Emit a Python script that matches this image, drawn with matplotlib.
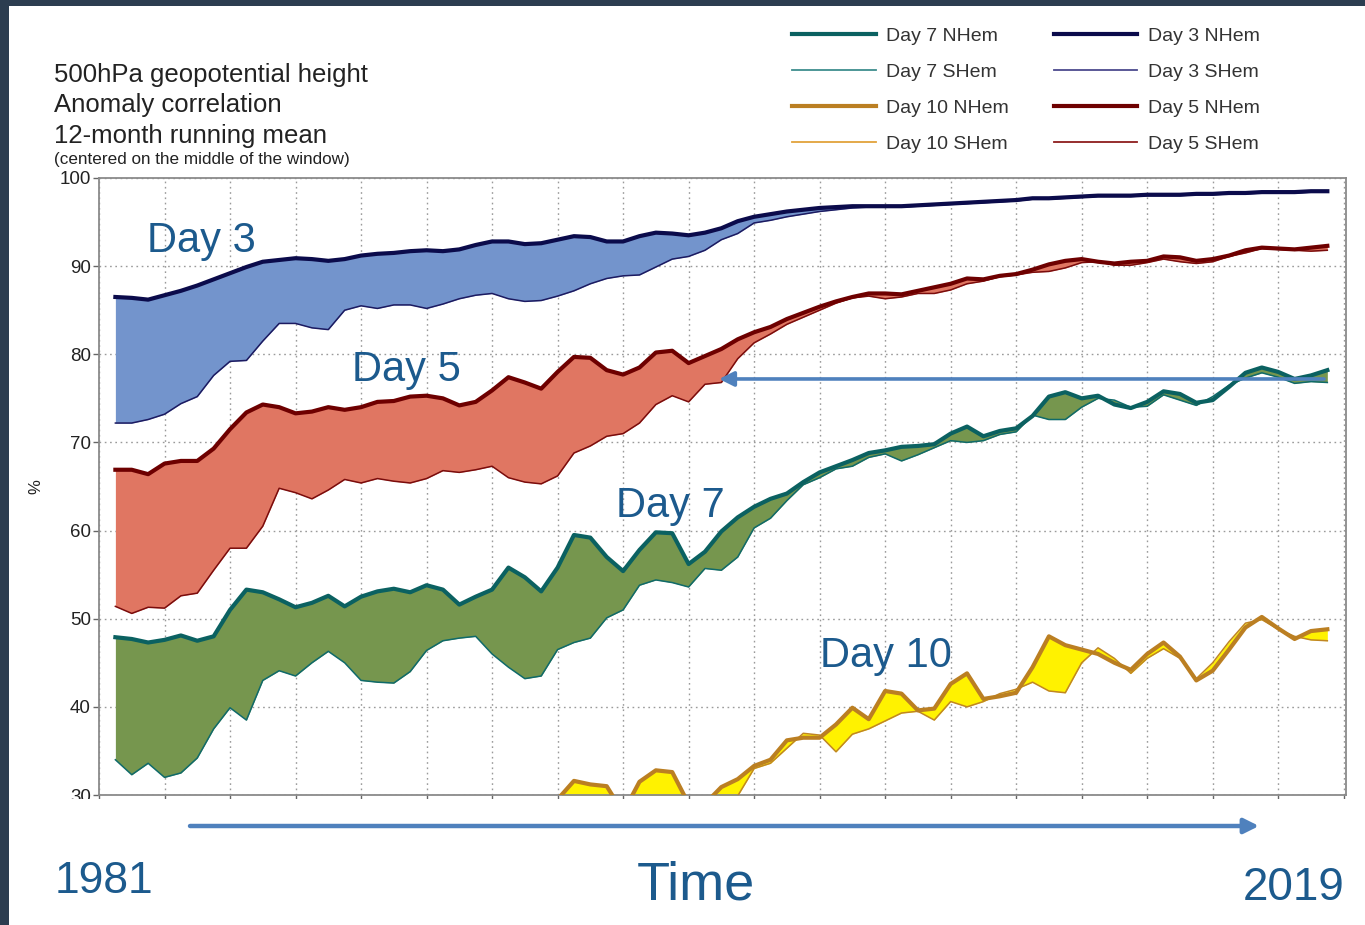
import numpy as np
import matplotlib
matplotlib.use("Agg")
import matplotlib.pyplot as plt
from matplotlib.lines import Line2D
from matplotlib.patches import Rectangle, FancyArrowPatch

plt.rcParams['font.family'] = ['Liberation Sans', 'DejaVu Sans']

W, H, DPI = 1365, 925, 100

# 12-month running means, sampled every half year (centre of window)
years = np.arange(1981.5, 2018.51, 0.5)
years10 = np.arange(1994.5, 2018.51, 0.5)

day3_nhem = [86.5, 86.4, 86.2, 86.7, 87.2, 87.8, 88.5, 89.2, 89.9, 90.5,
             90.7, 90.9, 90.8, 90.6, 90.8, 91.2, 91.4, 91.5, 91.7, 91.8,
             91.7, 91.9, 92.4, 92.8, 92.8, 92.5, 92.6, 93.0, 93.4, 93.3,
             92.8, 92.8, 93.4, 93.8, 93.7, 93.5, 93.8, 94.3, 95.1, 95.6,
             95.9, 96.2, 96.4, 96.6, 96.7, 96.8, 96.8, 96.8, 96.8, 96.9,
             97.0, 97.1, 97.2, 97.3, 97.4, 97.5, 97.7, 97.7, 97.8, 97.9,
             98.0, 98.0, 98.0, 98.1, 98.1, 98.1, 98.2, 98.2, 98.3, 98.3,
             98.4, 98.4, 98.4, 98.5, 98.5]
day3_shem = [72.2, 72.2, 72.6, 73.2, 74.4, 75.2, 77.6, 79.2, 79.3, 81.5,
             83.5, 83.5, 83.0, 82.8, 85.0, 85.5, 85.2, 85.6, 85.6, 85.2,
             85.7, 86.3, 86.7, 86.9, 86.3, 86.0, 86.1, 86.6, 87.2, 88.0,
             88.6, 88.9, 89.0, 89.9, 90.8, 91.1, 91.8, 93.0, 93.7, 94.9,
             95.2, 95.6, 95.9, 96.2, 96.4, 96.6, 96.7, 96.7, 96.7, 96.8,
             96.9, 97.0, 97.1, 97.2, 97.3, 97.4, 97.6, 97.6, 97.7, 97.8,
             97.9, 97.9, 97.9, 98.0, 98.0, 98.0, 98.1, 98.1, 98.2, 98.2,
             98.3, 98.3, 98.3, 98.4, 98.4]
day5_nhem = [66.9, 66.9, 66.4, 67.6, 67.9, 67.9, 69.3, 71.5, 73.4, 74.3,
             74.0, 73.3, 73.5, 74.0, 73.7, 74.0, 74.6, 74.7, 75.2, 75.3,
             75.0, 74.2, 74.6, 75.9, 77.4, 76.8, 76.1, 78.0, 79.7, 79.6,
             78.2, 77.7, 78.5, 80.2, 80.4, 79.0, 79.8, 80.6, 81.7, 82.5,
             83.1, 84.0, 84.7, 85.4, 86.0, 86.5, 86.9, 86.9, 86.8, 87.2,
             87.6, 88.0, 88.6, 88.5, 88.9, 89.1, 89.6, 90.2, 90.6, 90.8,
             90.5, 90.3, 90.5, 90.6, 91.1, 91.0, 90.6, 90.8, 91.2, 91.8,
             92.1, 92.0, 91.9, 92.1, 92.3]
day5_shem = [51.4, 50.6, 51.3, 51.2, 52.6, 52.9, 55.5, 58.0, 58.0, 60.5,
             64.8, 64.3, 63.6, 64.6, 65.8, 65.4, 65.9, 65.6, 65.4, 65.9,
             66.8, 66.6, 66.9, 67.3, 66.0, 65.5, 65.3, 66.2, 68.8, 69.6,
             70.7, 71.0, 72.2, 74.3, 75.3, 74.6, 76.6, 76.8, 79.5, 81.3,
             82.3, 83.4, 84.2, 85.0, 85.8, 86.4, 86.6, 86.3, 86.5, 86.9,
             86.9, 87.3, 88.0, 88.3, 88.8, 89.0, 89.3, 89.4, 89.8, 90.4,
             90.5, 90.1, 90.1, 90.4, 90.8, 90.5, 90.3, 90.5, 91.1, 91.5,
             92.0, 91.9, 91.8, 91.7, 91.8]
day7_nhem = [47.9, 47.7, 47.3, 47.6, 48.1, 47.5, 48.0, 51.0, 53.3, 53.0,
             52.2, 51.3, 51.8, 52.6, 51.4, 52.5, 53.1, 53.4, 53.0, 53.8,
             53.3, 51.6, 52.5, 53.3, 55.8, 54.7, 53.1, 55.8, 59.5, 59.2,
             57.0, 55.4, 57.8, 59.8, 59.7, 56.2, 57.6, 59.9, 61.5, 62.7,
             63.6, 64.2, 65.5, 66.6, 67.3, 68.0, 68.8, 69.1, 69.5, 69.6,
             69.8, 71.0, 71.8, 70.7, 71.3, 71.6, 73.0, 75.2, 75.7, 75.0,
             75.3, 74.3, 73.9, 74.6, 75.8, 75.5, 74.5, 74.8, 76.3, 77.9,
             78.5, 78.0, 77.2, 77.6, 78.2]
day7_shem = [34.0, 32.3, 33.6, 32.0, 32.5, 34.2, 37.5, 39.9, 38.5, 43.0,
             44.1, 43.5, 45.0, 46.3, 45.0, 43.0, 42.8, 42.7, 44.0, 46.4,
             47.5, 47.8, 48.0, 46.0, 44.5, 43.2, 43.5, 46.5, 47.3, 47.8,
             50.1, 51.0, 53.8, 54.4, 54.1, 53.6, 55.7, 55.5, 57.0, 60.3,
             61.4, 63.4, 65.2, 66.0, 67.0, 67.3, 68.3, 68.7, 67.9, 68.6,
             69.4, 70.2, 70.0, 70.2, 70.9, 71.2, 73.1, 72.6, 72.6, 74.0,
             75.0, 74.8, 74.0, 74.1, 75.4, 74.8, 74.2, 75.2, 76.5, 77.3,
             77.9, 77.4, 76.7, 76.9, 76.8]
day10_nhem = [27.0, 29.5, 31.6, 31.2, 31.0, 28.0, 31.5, 32.8, 32.6, 29.0,
              29.0, 30.9, 31.8, 33.3, 34.0, 36.2, 36.5, 36.5, 38.0, 39.9,
              38.6, 41.8, 41.5, 39.6, 39.8, 42.6, 43.8, 40.9, 41.2, 41.6,
              44.5, 48.0, 47.0, 46.5, 46.0, 45.0, 44.2, 46.0, 47.3, 45.7,
              43.0, 44.1, 46.5, 49.0, 50.2, 48.9, 47.7, 48.6, 48.8]
day10_shem = [24.0, 25.0, 26.0, 26.5, 27.0, 26.5, 28.0, 28.5, 29.0, 28.0,
              28.5, 29.0, 29.9, 33.0, 33.6, 35.3, 37.0, 36.8, 34.9, 36.9,
              37.5, 38.4, 39.3, 39.5, 38.5, 40.6, 40.0, 40.6, 41.5, 42.0,
              42.8, 41.8, 41.6, 45.0, 46.7, 45.5, 43.8, 45.5, 46.6, 45.5,
              43.2, 45.0, 47.4, 49.5, 49.9, 48.8, 48.0, 47.6, 47.5]

y_ticks = [30, 40, 50, 60, 70, 80, 90, 100]
x_ticks = np.arange(1981, 2020, 2)

# (x, nhem, shem, fill colour, nhem colour, shem colour, legend shem colour)
groups = {
    'Day 3': (years, day3_nhem, day3_shem, '#7394cc', '#0b0b4b', '#1c1a60', '#4c4a8e'),
    'Day 5': (years, day5_nhem, day5_shem, '#e07662', '#6e0000', '#7a0c0c', '#8e1c1c'),
    'Day 7': (years, day7_nhem, day7_shem, '#76964e', '#0b6161', '#0f6a6a', '#3e8d8d'),
    'Day 10': (years10, day10_nhem, day10_shem, '#fff200', '#bb7f22', '#c08624', '#e2a23c'),
}

fig = plt.figure(figsize=(W / DPI, H / DPI), dpi=DPI)
fig.patch.set_facecolor('white')


def fx(px):
    return px / W


def fy(py):
    return 1 - py / H


ax = fig.add_axes([fx(99), fy(795), fx(1346) - fx(99), fy(178) - fy(795)])

for name, (x, nh, sh, fill, cn, cs, _) in groups.items():
    ax.fill_between(x, nh, sh, color=fill, lw=0, zorder=2)
    ax.plot(x, sh, color=cs, lw=1.1, zorder=3)
    ax.plot(x, nh, color=cn, lw=3.0, zorder=4, solid_joinstyle='round')

ax.set_xlim(1981, 2019.07)
ax.set_ylim(30, 100)
ax.set_yticks(y_ticks)
ax.set_xticks(x_ticks)
ax.tick_params(axis='both', direction='out', length=4.3, width=1.0, color='#666666',
               labelsize=13.5, labelcolor='#222222', pad=1.5)
ax.tick_params(axis='x', labelbottom=False)
ax.grid(True, ls=(0, (1.2, 2.6)), color='#9a9a9a', lw=1.0, zorder=1)
ax.set_axisbelow(True)
for s in ax.spines.values():
    s.set_color('#8a8a8a')
    s.set_linewidth(1.3)

# arrow from the latest Day 7 level back to when Day 5 reached it
ax.annotate('', xy=(1999.93, 77.2), xytext=(2018.4, 77.2),
            arrowprops=dict(arrowstyle='-|>', color='#4f81bd', lw=2.6,
                            mutation_scale=22, shrinkA=0, shrinkB=0), zorder=6)

# series labels
label_color = '#1c5a8d'
for txt, px, py in [('Day 3', 147, 252), ('Day 5', 352, 381),
                    ('Day 7', 616, 517), ('Day 10', 820, 667)]:
    fig.text(fx(px), fy(py), txt, fontsize=30, color=label_color, va='baseline', ha='left')

# title block
title_color = '#222222'
fig.text(fx(54), fy(82), '500hPa geopotential height', fontsize=18.5, color=title_color, va='baseline')
fig.text(fx(54), fy(112), 'Anomaly correlation', fontsize=18.5, color=title_color, va='baseline')
fig.text(fx(54), fy(143), '12-month running mean', fontsize=18.5, color=title_color, va='baseline')
fig.text(fx(54), fy(164), '(centered on the middle of the window)', fontsize=12.3,
         color=title_color, va='baseline')
fig.text(fx(36), fy(487), '%', fontsize=12, rotation=90, ha='center', va='center', color='#222222')

# legend
handles, labels = [], []
for name in ['Day 7', 'Day 10', 'Day 3', 'Day 5']:
    _, _, _, _, cn, _, cs_leg = groups[name]
    handles.append(Line2D([], [], color=cn, lw=3.0))
    labels.append(f'{name} NHem')
    handles.append(Line2D([], [], color=cs_leg, lw=1.3))
    labels.append(f'{name} SHem')
fig.legend(handles, labels, ncol=2, loc='upper left', bbox_to_anchor=(fx(792), fy(27)),
           frameon=False, fontsize=14, handlelength=4.3, handletextpad=0.55,
           columnspacing=2.3, labelspacing=0.95, borderpad=0, borderaxespad=0,
           labelcolor='#333333')

# lower band covering the time axis labels, plus dark frame strips
fig.add_artist(Rectangle((fx(9), 0), 1, fy(799), transform=fig.transFigure,
                         facecolor='white', edgecolor='none', zorder=5))
fig.add_artist(Rectangle((0, fy(6)), 1, 6 / H, transform=fig.transFigure,
                         facecolor='#2c3d50', edgecolor='none', zorder=7))
fig.add_artist(Rectangle((0, 0), 9 / W, 1, transform=fig.transFigure,
                         facecolor='#2c3d50', edgecolor='none', zorder=7))

fig.add_artist(FancyArrowPatch((fx(190), fy(826)), (fx(1259), fy(826)),
                               transform=fig.transFigure, arrowstyle='-|>',
                               color='#4f81bd', lw=3.2, mutation_scale=22,
                               shrinkA=0, shrinkB=0, zorder=8))
fig.text(fx(55), fy(893), '1981', fontsize=32, color=label_color, va='baseline', zorder=8)
fig.text(fx(637), fy(900), 'Time', fontsize=39, color=label_color, va='baseline', zorder=8)
fig.text(fx(1243), fy(900), '2019', fontsize=33, color=label_color, va='baseline', zorder=8)

fig.savefig('out.png', dpi=DPI)
